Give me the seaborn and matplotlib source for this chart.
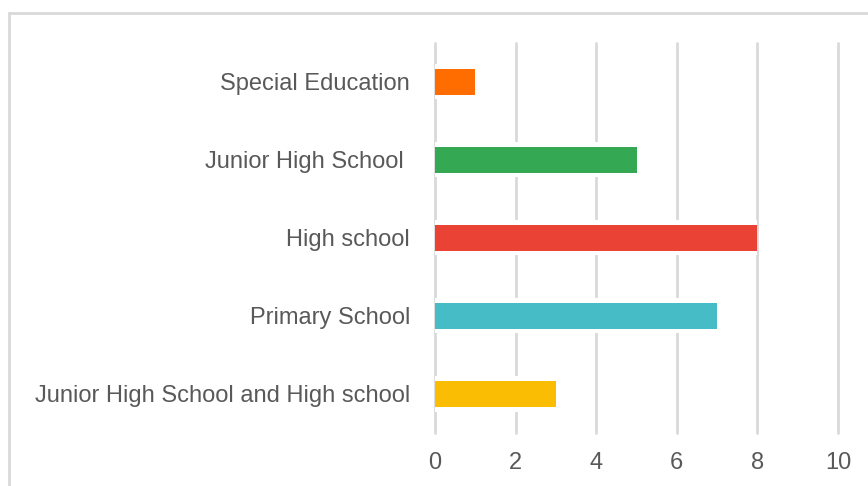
import matplotlib
matplotlib.use("Agg")
import matplotlib.pyplot as plt
import seaborn as sns
import pandas as pd
from matplotlib.patches import Rectangle

categories = ["Special Education", "Junior High School ", "High school",
              "Primary School", "Junior High School and High school"]
values = [1, 5, 8, 7, 3]
colors = ["#FF6D01", "#34A853", "#EA4335", "#46BDC6", "#FBBC04"]
xticks = [0, 2, 4, 6, 8, 10]

df = pd.DataFrame({"category": categories, "value": values})

sns.set_theme(style="white")
plt.rcParams["font.family"] = ["Liberation Sans", "DejaVu Sans"]

fig = plt.figure(figsize=(8.68, 4.86), dpi=100)
ax = fig.add_axes([435 / 868, 1 - 433 / 486, (838 - 435) / 868, (433 - 42.7) / 486])

# white backing bars (make the gridline gaps around bars)
sns.barplot(data=df, x="value", y="category", orient="h", color="white",
            width=0.45, ax=ax, zorder=2, linewidth=0, saturation=1)
# coloured bars
sns.barplot(data=df, x="value", y="category", orient="h", hue="category",
            palette=colors, legend=False, width=0.333, ax=ax, zorder=3,
            linewidth=0, saturation=1)

ax.set_xlim(0, 10)
ax.set_ylim(4.5, -0.5)
ax.set_xticks(xticks)
ax.set_xticklabels([str(t) for t in xticks])
ax.set_xlabel("")
ax.set_ylabel("")
ax.xaxis.grid(True, color="#d9d9d9", linewidth=2, zorder=0)
ax.yaxis.grid(False)
ax.set_axisbelow(True)
for gl in ax.get_xgridlines():
    gl.set_clip_on(False)
for s in ax.spines.values():
    s.set_visible(False)
ax.tick_params(axis="x", length=0, pad=14, labelsize=17, labelcolor="#595959")
ax.tick_params(axis="y", length=0, pad=18, labelsize=17, labelcolor="#595959")

# outer chart border (cropped at right and bottom)
border = Rectangle((9 / 868, -0.1), 1.2, 1 - 13 / 486 + 0.1,
                   transform=fig.transFigure, fill=False,
                   edgecolor="#d9d9d9", linewidth=2, clip_on=False)
fig.patches.append(border)

fig.savefig("out.png", dpi=100)
